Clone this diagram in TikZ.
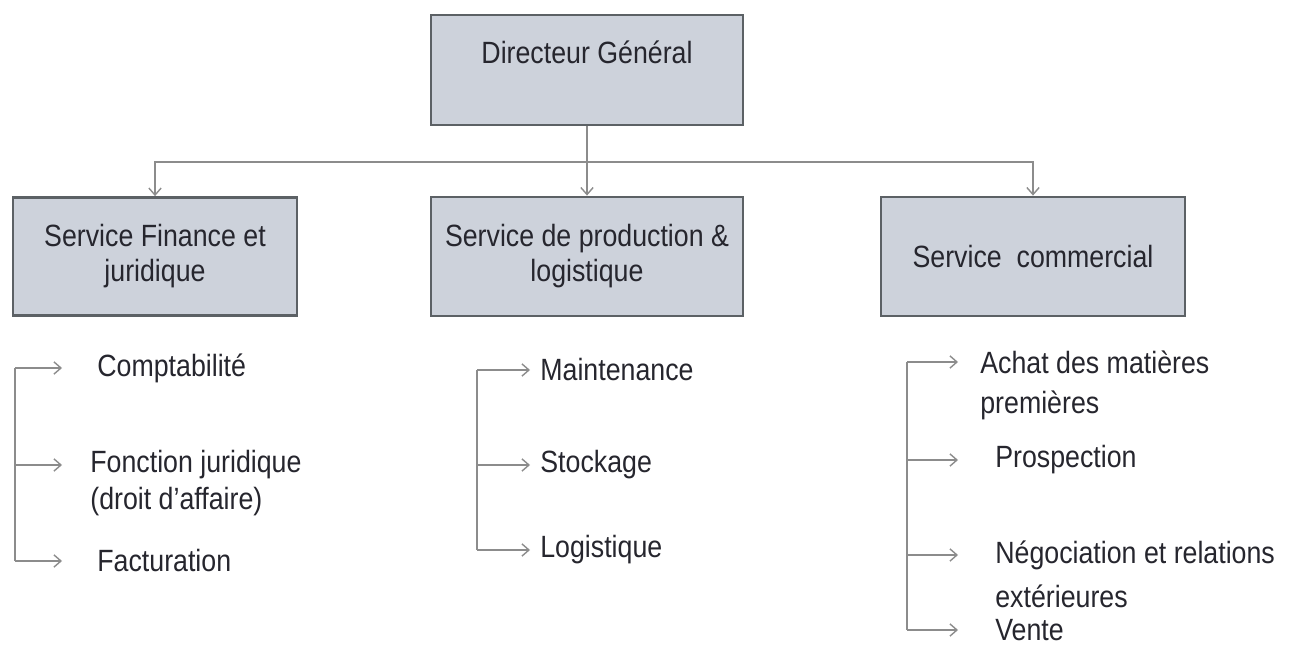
\documentclass[tikz,border=0pt]{standalone}
\usepackage{fontspec}
\setmainfont{Liberation Sans}[FakeStretch=0.87]
\usetikzlibrary{arrows.meta}
\definecolor{boxfill}{HTML}{CDD2DB}
\definecolor{boxline}{HTML}{5C6165}
\definecolor{linkgray}{HTML}{8C8C8C}
\definecolor{txt}{HTML}{26262E}
\tikzset{
  box/.style={draw=boxline, line width=1.6pt, fill=boxfill, align=center,
    text=txt, font=\fontsize{17.5}{19.9}\selectfont},
  item/.style={anchor=west, inner sep=0pt, text=txt,
    font=\fontsize{17.5}{19.9}\selectfont},
  link/.style={draw=linkgray, line width=0.8pt},
}
\begin{document}
\begin{tikzpicture}[x=0.02cm, y=-0.02cm, >={Straight Barb[length=4pt,width=7pt]}]
  \useasboundingbox (0,0) rectangle (1293,648);
  % Top of the chart
  \node[box, minimum width=6.24cm, minimum height=2.2cm] (dg) at (587,70) {Directeur Général\\~};
  % The three services
  \node[box, minimum width=5.68cm, minimum height=2.36cm] (fin) at (155,256.5) {Service Finance et\\juridique};
  \node[box, minimum width=6.24cm, minimum height=2.38cm] (prod) at (587,256.5) {Service de production \&\\logistique};
  \node[box, minimum width=6.08cm, minimum height=2.38cm] (com) at (1033,256.5) {Service~~commercial};
  \coordinate (bus) at (587,162);
  \draw[link,->] (dg) -- (prod);
  \draw[link,->] (bus) -| (fin);
  \draw[link,->] (bus) -| (com);
  % Finance tasks
  \coordinate (ltrunk) at (15,368);
  \node[item] (compta) at (97,368) {Comptabilité};
  \node[item] (jur) at (90,465) {Fonction juridique};
  \node[item] (jurb) at (90,502) {(droit d’affaire)};
  \node[item] (fact) at (97,561) {Facturation};
  \draw[link] (ltrunk |- compta.west) -- (ltrunk |- fact.west);
  \foreach \n/\s in {compta/0.7cm, jur/0.56cm, fact/0.7cm}
    \draw[link,->,shorten >=\s] (ltrunk |- \n.west) -- (\n.west);
  % Production tasks
  \coordinate (mtrunk) at (477,370);
  \node[item] (maint) at (540,370) {Maintenance};
  \node[item] (stock) at (540,465) {Stockage};
  \node[item] (logi) at (540,550) {Logistique};
  \draw[link] (mtrunk |- maint.west) -- (mtrunk |- logi.west);
  \foreach \n in {maint, stock, logi}
    \draw[link,->,shorten >=0.2cm] (mtrunk |- \n.west) -- (\n.west);
  % Commercial tasks
  \coordinate (rtrunk) at (907,362);
  \node[item] (achat) at (980,362) {Achat des matières};
  \node[item] (achatb) at (980,405) {premières};
  \node[item] (prosp) at (995,460) {Prospection};
  \node[item] (nego) at (995,555) {Négociation et relations};
  \node[item] (negob) at (995,596) {extérieures};
  \node[item] (vente) at (995,630) {Vente};
  \draw[link] (rtrunk |- achat.west) -- (rtrunk |- vente.west);
  \foreach \n/\s in {achat/0.44cm, prosp/0.74cm, nego/0.74cm, vente/0.74cm}
    \draw[link,->,shorten >=\s] (rtrunk |- \n.west) -- (\n.west);
\end{tikzpicture}
\end{document}
